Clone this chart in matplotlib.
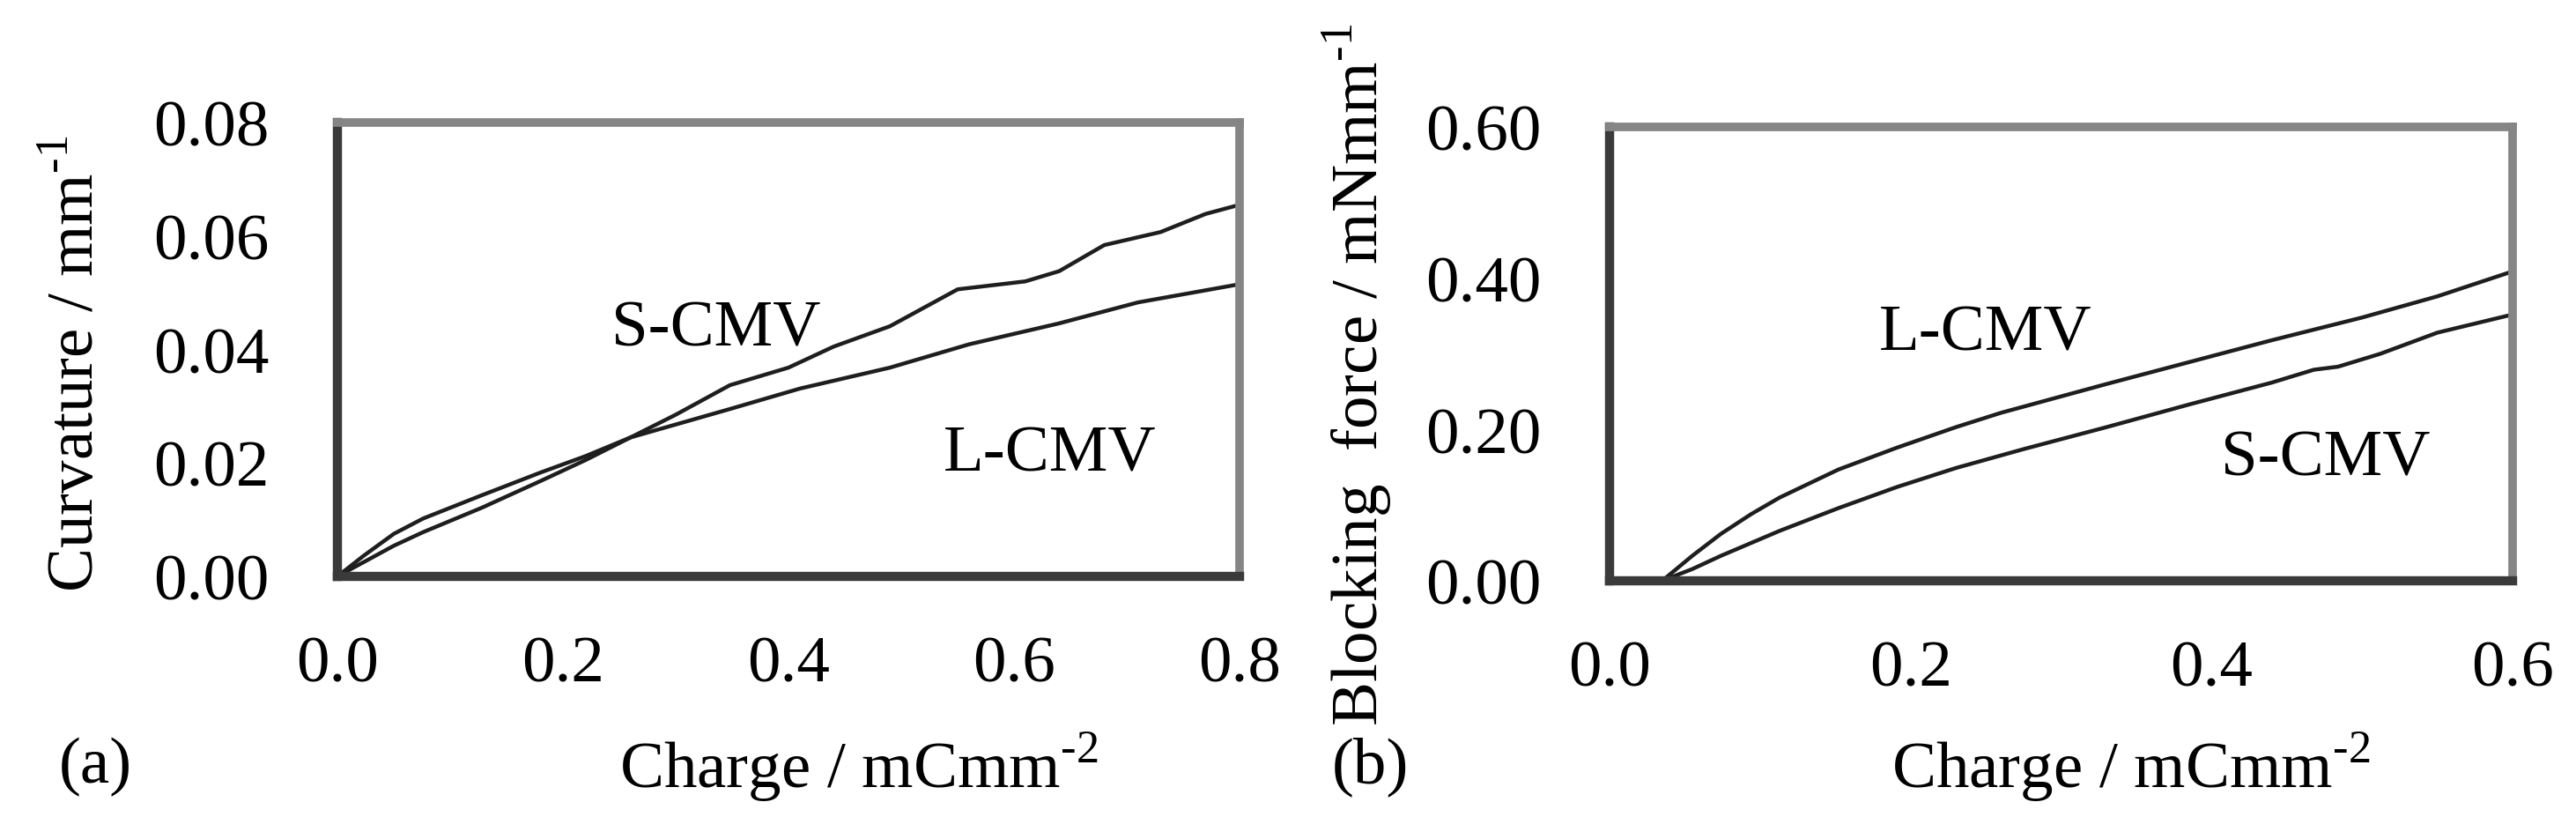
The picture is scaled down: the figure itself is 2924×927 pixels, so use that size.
import numpy as np
import matplotlib.pyplot as plt

# (a) curvature vs charge
a_s_x = [0, 0.05, 0.076, 0.128, 0.18, 0.22, 0.26, 0.30, 0.348, 0.40, 0.44, 0.49, 0.55, 0.61, 0.64, 0.68, 0.73, 0.77, 0.80]
a_s_y = [0, 0.0054, 0.0078, 0.0121, 0.0168, 0.0205, 0.0245, 0.0285, 0.0337, 0.0368, 0.0405, 0.0441, 0.0506, 0.0520, 0.0538, 0.0584, 0.0607, 0.0639, 0.0655]
a_l_x = [0, 0.023, 0.05, 0.076, 0.128, 0.18, 0.22, 0.26, 0.348, 0.41, 0.49, 0.56, 0.64, 0.71, 0.80]
a_l_y = [0, 0.0036, 0.0075, 0.0102, 0.0143, 0.0183, 0.0212, 0.0245, 0.0295, 0.0331, 0.0368, 0.0409, 0.0446, 0.0483, 0.0515]

# (b) blocking force vs charge
b_l_x = [0, 0.035, 0.055, 0.074, 0.094, 0.113, 0.152, 0.191, 0.23, 0.26, 0.33, 0.385, 0.44, 0.50, 0.55, 0.60]
b_l_y = [0, 0, 0.033, 0.062, 0.088, 0.110, 0.147, 0.176, 0.203, 0.222, 0.260, 0.289, 0.318, 0.348, 0.376, 0.409]
b_s_x = [0, 0.035, 0.055, 0.074, 0.113, 0.152, 0.191, 0.23, 0.275, 0.33, 0.385, 0.44, 0.468, 0.484, 0.512, 0.55, 0.60]
b_s_y = [0, 0, 0.0155, 0.033, 0.066, 0.096, 0.124, 0.149, 0.174, 0.203, 0.233, 0.262, 0.279, 0.283, 0.300, 0.328, 0.352]

a_xticks = [0.0, 0.2, 0.4, 0.6, 0.8]
a_yticks = [0.00, 0.02, 0.04, 0.06, 0.08]
b_xticks = [0.0, 0.2, 0.4, 0.6]
b_yticks = [0.00, 0.20, 0.40, 0.60]

plt.rcParams['font.family'] = ['Liberation Serif', 'DejaVu Serif']
plt.rcParams['mathtext.fontset'] = 'custom'
plt.rcParams['mathtext.rm'] = 'Liberation Serif'
fs = 54

fig = plt.figure(figsize=(29.24, 9.28), dpi=100)
ax1 = fig.add_axes([0.1310, 0.2942, 0.3502, 0.5549])
ax2 = fig.add_axes([0.6248, 0.2888, 0.3506, 0.5550])


def style(ax, xt, yt, xfmt, yfmt):
    ax.set_xlim(xt[0], xt[-1])
    ax.set_ylim(yt[0], yt[-1])
    ax.set_xticks(xt)
    ax.set_yticks(yt)
    ax.set_xticklabels([xfmt.format(v) for v in xt])
    ax.set_yticklabels([yfmt.format(v) for v in yt])
    ax.tick_params(axis='x', length=0, pad=48, labelsize=fs)
    ax.tick_params(axis='y', length=0, pad=56, labelsize=fs)
    for s in ['left', 'bottom']:
        ax.spines[s].set_color('#3a3a3a')
        ax.spines[s].set_linewidth(7.5)
    for s in ['top', 'right']:
        ax.spines[s].set_color('#858585')
        ax.spines[s].set_linewidth(7)


ax1.plot(a_s_x, a_s_y, color='#1e1e1e', lw=3.2)
ax1.plot(a_l_x, a_l_y, color='#1e1e1e', lw=3.2)
style(ax1, a_xticks, a_yticks, '{:.1f}', '{:.2f}')
ax1.text(0.336, 0.0435, 'S-CMV', fontsize=fs, ha='center', va='center')
ax1.text(0.632, 0.0214, 'L-CMV', fontsize=fs, ha='center', va='center')

ax2.plot(b_l_x, b_l_y, color='#1e1e1e', lw=3.2)
ax2.plot(b_s_x, b_s_y, color='#1e1e1e', lw=3.2)
style(ax2, b_xticks, b_yticks, '{:.1f}', '{:.2f}')
ax2.text(0.250, 0.326, 'L-CMV', fontsize=fs, ha='center', va='center')
ax2.text(0.476, 0.161, 'S-CMV', fontsize=fs, ha='center', va='center')

fig.text(0.030, 0.555, r'Curvature / mm$^{\text{-1}}$', fontsize=fs, rotation=90,
         ha='center', va='center')
fig.text(0.527, 0.542, r'Blocking  force / mNmm$^{\text{-1}}$', fontsize=fs, rotation=90,
         ha='center', va='center')
fig.text(0.3335, 0.0625, r'Charge / mCmm$^{\text{-2}}$', fontsize=fs, ha='center', va='center')
fig.text(0.8273, 0.0625, r'Charge / mCmm$^{\text{-2}}$', fontsize=fs, ha='center', va='center')
fig.text(0.037, 0.0625, '(a)', fontsize=fs, ha='center', va='center')
fig.text(0.532, 0.0625, '(b)', fontsize=fs, ha='center', va='center')

fig.savefig('out.png', dpi=100)
